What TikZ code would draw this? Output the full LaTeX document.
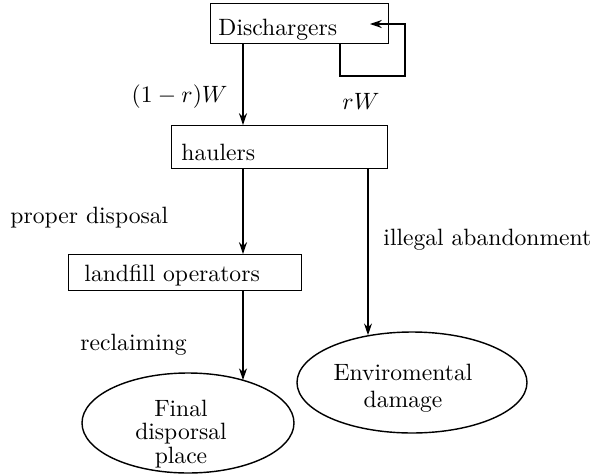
\documentclass[tikz,border=0pt]{standalone}
\usetikzlibrary{shapes.geometric,arrows.meta}
\def\u{0.4237pt}
\begin{document}
\begin{tikzpicture}[x=\u, y=-\u,
  box/.style={draw, line width=0.6pt, rectangle, inner sep=0pt, anchor=north west},
  oval/.style={draw, line width=0.6pt, ellipse, inner sep=0pt},
  lbl/.style={inner sep=0pt, anchor=base west},
  ctr/.style={inner sep=0pt, anchor=base},
  arr/.style={-{Stealth[length=5pt,width=3.4pt]}, line width=0.6pt}]
\useasboundingbox (0,0) rectangle (597,475);
% boxes
\node[box, minimum width=178*\u, minimum height=40*\u] (dis) at (210,3) {};
\node[lbl] (disT) at (218,35) {Dischargers};
\node[box, minimum width=216*\u, minimum height=43*\u] (hau) at (171,125) {};
\node[lbl] (hauT) at (181,160) {haulers};
\node[box, minimum width=233*\u, minimum height=36*\u] (lan) at (68,254) {};
\node[lbl] (lanT) at (84,281) {landfill operators};
% ellipses
\node[oval, minimum width=212*\u, minimum height=100*\u] (fin) at (188,423) {};
\node[ctr] (finA) at (181,416) {Final};
\node[ctr] (finB) at (181,439) {disporsal};
\node[ctr] (finC) at (181,463) {place};
\node[oval, minimum width=230*\u, minimum height=101*\u] (env) at (412,382.5) {};
\node[ctr] (envA) at (403,380) {Enviromental};
\node[ctr] (envB) at (403,407) {damage};
% labels
\node[inner sep=0pt, anchor=base east] (l1) at (228,102) {$(1-r)W$};
\node[lbl] (l2) at (342,109) {$rW$};
\node[lbl] (l3) at (10,223) {proper disposal};
\node[lbl] (l4) at (383,245) {illegal abandonment};
\node[lbl] (l5) at (80,350) {reclaiming};
% connectors
\coordinate (lpc) at (405,76);
\coordinate (lpt) at (370,24);
\draw[arr] ([xshift=130*\u]dis.south west) |- (lpc) |- (lpt);
\draw[arr] ([xshift=33*\u]dis.south west) -- ([xshift=33*\u]dis.south west |- hau.north);
\draw[arr] ([xshift=72*\u]hau.south west) -- ([xshift=72*\u]hau.south west |- lan.north);
\draw[arr] ([xshift=197*\u]hau.south west) -- ([xshift=197*\u]hau.south west |- env.133.3);
\draw[arr] ([xshift=175*\u]lan.south west) -- ([xshift=175*\u]lan.south west |- fin.37.8);
\end{tikzpicture}
\end{document}
